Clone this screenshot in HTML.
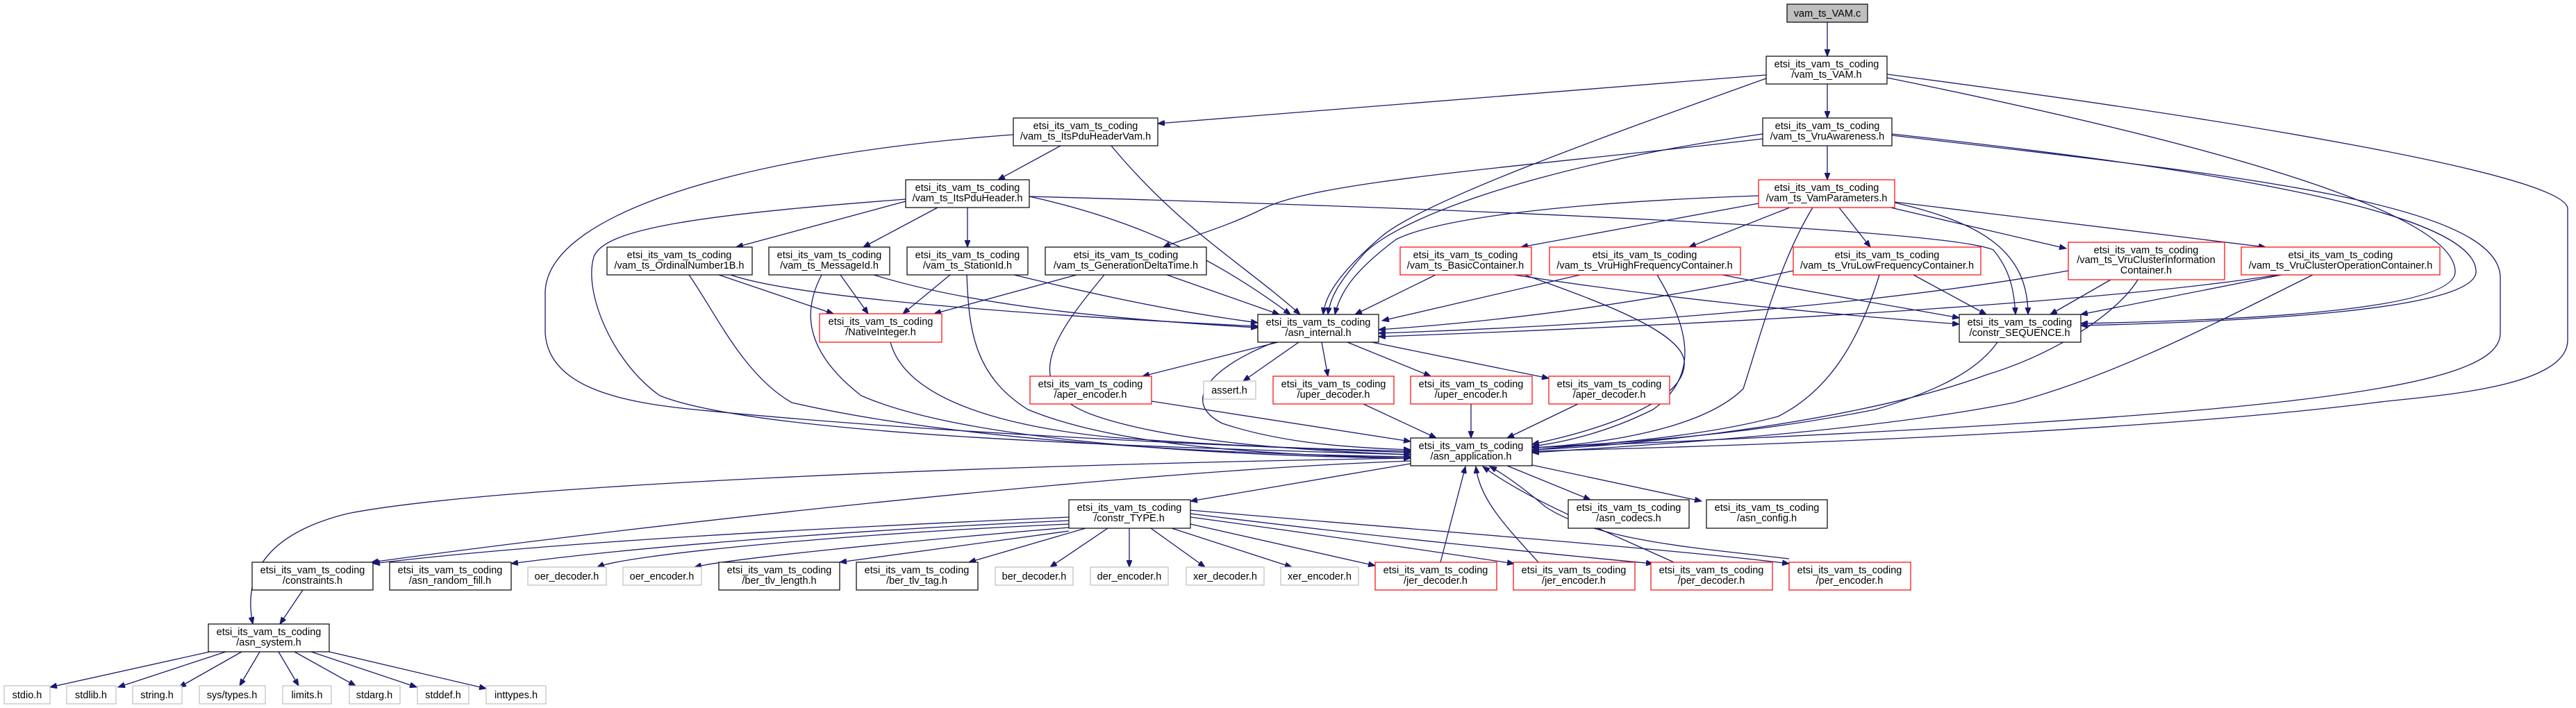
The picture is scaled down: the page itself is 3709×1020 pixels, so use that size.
<!DOCTYPE html>
<html><head><meta charset="utf-8"><style>
html,body{margin:0;padding:0;background:#fff;width:3709px;height:1020px;overflow:hidden}
svg{display:block}
text{font-family:"Liberation Sans",sans-serif;font-size:14.5px;fill:#000;text-anchor:middle}
.e{fill:none;stroke:#191970;stroke-width:1.3;marker-end:url(#a)}
.b{fill:#fff;stroke:#000;stroke-width:1.2}
.r{fill:#fff;stroke:#ff0000;stroke-width:1.2}
.g{fill:#fff;stroke:#bfbfbf;stroke-width:1.2}
</style></head><body>
<svg width="3709" height="1020" viewBox="0 0 3709 1020" xmlns="http://www.w3.org/2000/svg">
<defs><marker id="a" markerUnits="userSpaceOnUse" markerWidth="11" markerHeight="8" refX="10" refY="4" orient="auto"><path d="M0,0 L10,4 L0,8 z" fill="#191970" stroke="#191970"/></marker></defs>
<g>
<path class="e" d="M2631 32 L2631 81"/>
<path class="e" d="M2631 121 L2631 170"/>
<path class="e" d="M2631 210 L2631 259"/>
<path class="e" d="M2543 108 L1667 178"/>
<path class="e" d="M2543 113 C2300 200 2050 290 1990 340 C1920 400 1908 430 1905 453"/>
<path class="e" d="M2717 112 C3150 200 3530 300 3535 390 C3540 450 3200 462 2996 466"/>
<path class="e" d="M2717 107 C3200 170 3690 250 3697 300 L3697 490 C3697 560 3500 570 3420 580 C3100 620 2600 640 2206 650"/>
<path class="e" d="M2538 193 C2200 240 2000 320 1960 370 C1925 410 1915 430 1912 453"/>
<path class="e" d="M2538 200 C2200 240 1900 260 1820 300 C1760 330 1700 345 1675 356"/>
<path class="e" d="M2724 193 C3150 240 3560 300 3565 390 C3570 450 3200 464 2996 469"/>
<path class="e" d="M2724 195 C3200 250 3600 290 3600 400 L3600 480 C3600 560 3300 600 2206 645"/>
<path class="e" d="M1527 210 L1437 259"/>
<path class="e" d="M1600 210 C1700 330 1790 380 1872 453"/>
<path class="e" d="M1459 194 C1100 220 790 300 785 420 L785 480 C790 560 900 580 1000 590 C1300 620 1700 640 2031 652"/>
<path class="e" d="M1304 290 L1060 356"/>
<path class="e" d="M1350 299 L1243 356"/>
<path class="e" d="M1393 299 L1393 356"/>
<path class="e" d="M1482 283 C1650 320 1760 380 1858 453"/>
<path class="e" d="M1482 283 C2100 300 2800 330 2870 360 C2895 390 2900 420 2902 453"/>
<path class="e" d="M1304 287 C1000 310 870 330 855 370 C840 420 880 520 950 570 C1100 630 1700 645 2031 655"/>
<path class="e" d="M1035 396 L1200 452"/>
<path class="e" d="M1052 396 C1150 430 1500 455 1811 470"/>
<path class="e" d="M992 396 C1030 450 1070 540 1140 580 C1400 640 1800 655 2031 658"/>
<path class="e" d="M1210 396 L1250 452"/>
<path class="e" d="M1258 396 C1400 440 1600 460 1811 472"/>
<path class="e" d="M1183 396 C1160 440 1150 500 1240 570 C1400 640 1800 658 2031 660"/>
<path class="e" d="M1368 396 L1300 452"/>
<path class="e" d="M1460 396 C1600 430 1700 450 1811 465"/>
<path class="e" d="M1392 396 C1395 470 1400 540 1480 590 C1600 640 1800 655 2031 660"/>
<path class="e" d="M1550 396 L1345 452"/>
<path class="e" d="M1680 396 L1842 453"/>
<path class="e" d="M1590 396 C1520 480 1460 560 1580 600 C1700 640 1900 650 2031 655"/>
<path class="e" d="M1282 493 C1300 560 1400 610 1600 630 C1800 645 1950 648 2031 650"/>
<path class="e" d="M2532 282 C2300 290 2080 310 2010 345 C1950 390 1930 420 1922 453"/>
<path class="e" d="M2532 293 L2190 356"/>
<path class="e" d="M2577 299 L2432 356"/>
<path class="e" d="M2648 299 L2693 356"/>
<path class="e" d="M2722 299 L2975 358"/>
<path class="e" d="M2728 291 L3262 356"/>
<path class="e" d="M2728 292 C2850 320 2920 360 2920 453"/>
<path class="e" d="M2610 299 C2560 380 2530 500 2510 560 C2450 620 2300 640 2206 645"/>
<path class="e" d="M2067 396 L1951 453"/>
<path class="e" d="M2180 396 C2400 430 2600 450 2821 467"/>
<path class="e" d="M2195 396 C2320 440 2420 480 2425 520 C2430 580 2300 620 2206 640"/>
<path class="e" d="M2275 396 L1990 462"/>
<path class="e" d="M2480 396 C2600 420 2750 445 2821 458"/>
<path class="e" d="M2386 396 C2430 470 2450 540 2380 590 C2300 630 2230 640 2206 643"/>
<path class="e" d="M2582 390 C2400 430 2200 460 1985 475"/>
<path class="e" d="M2755 396 L2860 453"/>
<path class="e" d="M2706 396 C2680 480 2640 560 2560 600 C2450 630 2300 640 2206 648"/>
<path class="e" d="M2978 390 C2700 440 2300 470 1985 480"/>
<path class="e" d="M3039 403 L2952 453"/>
<path class="e" d="M3078 403 C3050 450 2960 510 2860 540 C2700 600 2400 640 2206 648"/>
<path class="e" d="M3280 396 C3000 440 2400 470 1985 485"/>
<path class="e" d="M3285 396 L2996 453"/>
<path class="e" d="M3330 396 C3200 460 3050 540 2900 580 C2700 620 2400 640 2206 652"/>
<path class="e" d="M2876 493 C2850 530 2800 560 2700 590 C2500 630 2300 640 2206 645"/>
<path class="e" d="M1840 493 L1645 542"/>
<path class="e" d="M1870 493 L1790 549"/>
<path class="e" d="M1903 493 L1912 542"/>
<path class="e" d="M1940 493 L2060 542"/>
<path class="e" d="M1975 493 L2230 545"/>
<path class="e" d="M1835 493 C1740 530 1700 580 1760 610 C1850 640 1950 645 2031 648"/>
<path class="e" d="M1658 578 L2031 636"/>
<path class="e" d="M1963 582 L2068 631"/>
<path class="e" d="M2118 582 L2118 631"/>
<path class="e" d="M2272 582 L2170 631"/>
<path class="e" d="M2031 668 L1714 722"/>
<path class="e" d="M2170 671 L2290 720"/>
<path class="e" d="M2206 670 L2450 722"/>
<path class="e" d="M2031 660 C1400 670 700 700 500 740 C380 770 350 830 364 899"/>
<path class="e" d="M2031 664 C1600 680 900 760 535 810"/>
<path class="e" d="M1539 745 C1200 760 800 780 537 812"/>
<path class="e" d="M1539 750 C1200 765 900 790 736 812"/>
<path class="e" d="M1539 755 C1200 770 900 800 860 817"/>
<path class="e" d="M1539 760 C1300 780 1050 805 1000 817"/>
<path class="e" d="M1539 765 L1209 810"/>
<path class="e" d="M1563 761 L1395 810"/>
<path class="e" d="M1595 761 L1512 817"/>
<path class="e" d="M1626 761 L1626 817"/>
<path class="e" d="M1657 761 L1735 817"/>
<path class="e" d="M1687 761 L1860 817"/>
<path class="e" d="M1714 755 L1980 815"/>
<path class="e" d="M1714 745 C1900 770 2100 800 2180 812"/>
<path class="e" d="M1714 740 C1950 770 2250 800 2380 812"/>
<path class="e" d="M1714 735 C2000 760 2400 790 2576 812"/>
<path class="e" d="M2074 810 L2110 672"/>
<path class="e" d="M2215 810 C2170 760 2130 720 2125 672"/>
<path class="e" d="M2410 810 C2300 760 2200 720 2135 672"/>
<path class="e" d="M2576 805 C2450 790 2300 780 2225 730 C2190 700 2160 680 2145 672"/>
<path class="e" d="M436 850 L403 899"/>
<path class="e" d="M302 939 L72 990"/>
<path class="e" d="M325 939 L170 990"/>
<path class="e" d="M348 939 L258 990"/>
<path class="e" d="M374 939 L345 988"/>
<path class="e" d="M401 939 L430 988"/>
<path class="e" d="M424 939 L512 988"/>
<path class="e" d="M448 939 L600 990"/>
<path class="e" d="M474 939 L700 992"/>
</g>
<g>
<rect x="2573" y="6" width="116" height="26" fill="#bfbfbf" stroke="#000" stroke-width="1.2"/><text x="2631" y="24">vam_ts_VAM.c</text>
<rect class="b" x="2543" y="81" width="174" height="40"/><text x="2630" y="97">etsi_its_vam_ts_coding</text><text x="2630" y="112">/vam_ts_VAM.h</text>
<rect class="b" x="2538" y="170" width="186" height="40"/><text x="2631" y="186">etsi_its_vam_ts_coding</text><text x="2631" y="201">/vam_ts_VruAwareness.h</text>
<rect class="r" x="2532" y="259" width="196" height="40"/><text x="2630" y="275">etsi_its_vam_ts_coding</text><text x="2630" y="290">/vam_ts_VamParameters.h</text>
<rect class="b" x="1459" y="170" width="208" height="40"/><text x="1563" y="186">etsi_its_vam_ts_coding</text><text x="1563" y="201">/vam_ts_ItsPduHeaderVam.h</text>
<rect class="b" x="1304" y="259" width="178" height="40"/><text x="1393" y="275">etsi_its_vam_ts_coding</text><text x="1393" y="290">/vam_ts_ItsPduHeader.h</text>
<rect class="b" x="874" y="356" width="209" height="40"/><text x="978" y="372">etsi_its_vam_ts_coding</text><text x="978" y="387">/vam_ts_OrdinalNumber1B.h</text>
<rect class="b" x="1107" y="356" width="174" height="40"/><text x="1194" y="372">etsi_its_vam_ts_coding</text><text x="1194" y="387">/vam_ts_MessageId.h</text>
<rect class="b" x="1306" y="356" width="174" height="40"/><text x="1393" y="372">etsi_its_vam_ts_coding</text><text x="1393" y="387">/vam_ts_StationId.h</text>
<rect class="b" x="1505" y="356" width="232" height="40"/><text x="1621" y="372">etsi_its_vam_ts_coding</text><text x="1621" y="387">/vam_ts_GenerationDeltaTime.h</text>
<rect class="r" x="2016" y="356" width="189" height="40"/><text x="2110" y="372">etsi_its_vam_ts_coding</text><text x="2110" y="387">/vam_ts_BasicContainer.h</text>
<rect class="r" x="2231" y="356" width="275" height="40"/><text x="2368" y="372">etsi_its_vam_ts_coding</text><text x="2368" y="387">/vam_ts_VruHighFrequencyContainer.h</text>
<rect class="r" x="2582" y="356" width="270" height="40"/><text x="2717" y="372">etsi_its_vam_ts_coding</text><text x="2717" y="387">/vam_ts_VruLowFrequencyContainer.h</text>
<rect class="r" x="2978" y="349" width="225" height="54"/><text x="3090" y="365">etsi_its_vam_ts_coding</text><text x="3090" y="379">/vam_ts_VruClusterInformation</text><text x="3090" y="394">Container.h</text>
<rect class="r" x="3227" y="356" width="286" height="40"/><text x="3370" y="372">etsi_its_vam_ts_coding</text><text x="3370" y="387">/vam_ts_VruClusterOperationContainer.h</text>
<rect class="r" x="1180" y="452" width="176" height="41"/><text x="1268" y="468">etsi_its_vam_ts_coding</text><text x="1268" y="483">/NativeInteger.h</text>
<rect class="b" x="1811" y="453" width="174" height="40"/><text x="1898" y="469">etsi_its_vam_ts_coding</text><text x="1898" y="484">/asn_internal.h</text>
<rect class="b" x="2821" y="453" width="175" height="40"/><text x="2908" y="469">etsi_its_vam_ts_coding</text><text x="2908" y="484">/constr_SEQUENCE.h</text>
<rect class="r" x="1483" y="542" width="175" height="40"/><text x="1570" y="558">etsi_its_vam_ts_coding</text><text x="1570" y="573">/aper_encoder.h</text>
<rect class="g" x="1733" y="549" width="75" height="26"/><text x="1770" y="567">assert.h</text>
<rect class="r" x="1833" y="542" width="174" height="40"/><text x="1920" y="558">etsi_its_vam_ts_coding</text><text x="1920" y="573">/uper_decoder.h</text>
<rect class="r" x="2031" y="542" width="175" height="40"/><text x="2118" y="558">etsi_its_vam_ts_coding</text><text x="2118" y="573">/uper_encoder.h</text>
<rect class="r" x="2230" y="542" width="174" height="40"/><text x="2317" y="558">etsi_its_vam_ts_coding</text><text x="2317" y="573">/aper_decoder.h</text>
<rect class="b" x="2031" y="631" width="175" height="40"/><text x="2118" y="647">etsi_its_vam_ts_coding</text><text x="2118" y="662">/asn_application.h</text>
<rect class="b" x="1539" y="720" width="175" height="41"/><text x="1626" y="736">etsi_its_vam_ts_coding</text><text x="1626" y="751">/constr_TYPE.h</text>
<rect class="b" x="2258" y="720" width="174" height="41"/><text x="2345" y="736">etsi_its_vam_ts_coding</text><text x="2345" y="751">/asn_codecs.h</text>
<rect class="b" x="2457" y="720" width="174" height="41"/><text x="2544" y="736">etsi_its_vam_ts_coding</text><text x="2544" y="751">/asn_config.h</text>
<rect class="b" x="363" y="810" width="174" height="40"/><text x="450" y="826">etsi_its_vam_ts_coding</text><text x="450" y="841">/constraints.h</text>
<rect class="b" x="561" y="810" width="175" height="40"/><text x="648" y="826">etsi_its_vam_ts_coding</text><text x="648" y="841">/asn_random_fill.h</text>
<rect class="g" x="760" y="817" width="113" height="26"/><text x="816" y="835">oer_decoder.h</text>
<rect class="g" x="897" y="817" width="113" height="26"/><text x="953" y="835">oer_encoder.h</text>
<rect class="b" x="1035" y="810" width="174" height="40"/><text x="1122" y="826">etsi_its_vam_ts_coding</text><text x="1122" y="841">/ber_tlv_length.h</text>
<rect class="b" x="1233" y="810" width="175" height="40"/><text x="1320" y="826">etsi_its_vam_ts_coding</text><text x="1320" y="841">/ber_tlv_tag.h</text>
<rect class="g" x="1433" y="817" width="112" height="26"/><text x="1489" y="835">ber_decoder.h</text>
<rect class="g" x="1570" y="817" width="112" height="26"/><text x="1626" y="835">der_encoder.h</text>
<rect class="g" x="1708" y="817" width="112" height="26"/><text x="1764" y="835">xer_decoder.h</text>
<rect class="g" x="1844" y="817" width="112" height="26"/><text x="1900" y="835">xer_encoder.h</text>
<rect class="r" x="1980" y="810" width="175" height="40"/><text x="2067" y="826">etsi_its_vam_ts_coding</text><text x="2067" y="841">/jer_decoder.h</text>
<rect class="r" x="2179" y="810" width="175" height="40"/><text x="2266" y="826">etsi_its_vam_ts_coding</text><text x="2266" y="841">/jer_encoder.h</text>
<rect class="r" x="2377" y="810" width="175" height="40"/><text x="2464" y="826">etsi_its_vam_ts_coding</text><text x="2464" y="841">/per_decoder.h</text>
<rect class="r" x="2576" y="810" width="175" height="40"/><text x="2663" y="826">etsi_its_vam_ts_coding</text><text x="2663" y="841">/per_encoder.h</text>
<rect class="b" x="300" y="899" width="174" height="40"/><text x="387" y="915">etsi_its_vam_ts_coding</text><text x="387" y="930">/asn_system.h</text>
<rect class="g" x="6" y="988" width="66" height="26"/><text x="39" y="1006">stdio.h</text>
<rect class="g" x="96" y="988" width="71" height="26"/><text x="131" y="1006">stdlib.h</text>
<rect class="g" x="191" y="988" width="71" height="26"/><text x="226" y="1006">string.h</text>
<rect class="g" x="287" y="988" width="95" height="26"/><text x="334" y="1006">sys/types.h</text>
<rect class="g" x="407" y="988" width="70" height="26"/><text x="442" y="1006">limits.h</text>
<rect class="g" x="503" y="988" width="73" height="26"/><text x="539" y="1006">stdarg.h</text>
<rect class="g" x="601" y="988" width="74" height="26"/><text x="638" y="1006">stddef.h</text>
<rect class="g" x="700" y="988" width="86" height="26"/><text x="743" y="1006">inttypes.h</text>
</g>
</svg>
</body></html>
